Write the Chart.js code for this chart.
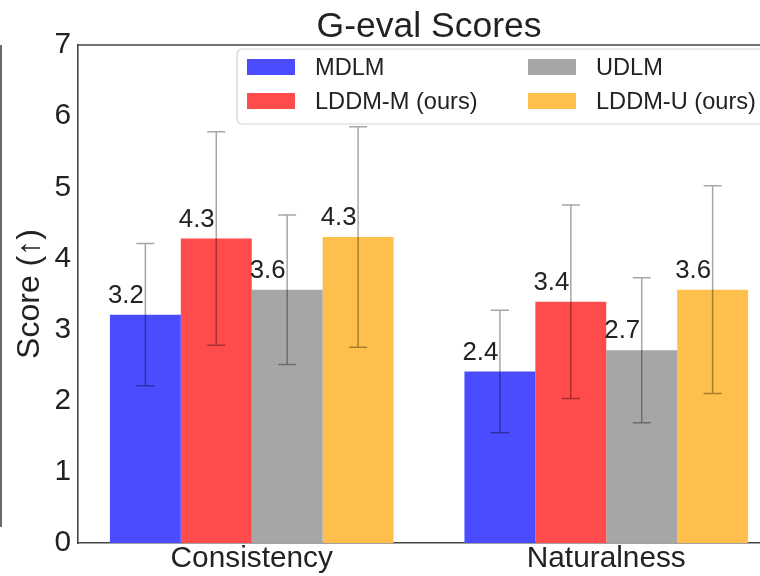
<!DOCTYPE html>
<html>
<head>
<meta charset="utf-8">
<script src="https://cdn.jsdelivr.net/npm/chart.js@4.4.1/dist/chart.umd.min.js"></script>
<style>
  html, body { margin: 0; padding: 0; overflow: hidden; background: #fff; width: 760px; height: 576px; }
  canvas { display: block; }
</style>
</head>
<body>
<canvas id="c" width="800" height="576"></canvas>
<script>
// Categories, series and tick labels
const categories = ['Consistency', 'Naturalness'];
const seriesNames = ['MDLM', 'LDDM-M (ours)', 'UDLM', 'LDDM-U (ours)'];
const mdlm  = [3.21, 2.41];
const lddmM = [4.28, 3.39];
const udlm  = [3.56, 2.71];
const lddmU = [4.30, 3.56];
// Standard deviations shown as error bars
const mdlmErr  = [1.00, 0.86];
const lddmMErr = [1.50, 1.36];
const udlmErr  = [1.05, 1.02];
const lddmUErr = [1.55, 1.46];
const yTicks = [0, 1, 2, 3, 4, 5, 6, 7];

const FONT = '"Liberation Sans", Arial, Helvetica, sans-serif';
const TEXT = '#222';
const SPINE = '#444';
const colors = ['#4b4bff', '#ff4b4b', '#a6a6a6', '#ffbf4d'];

const seriesValues = [mdlm, lddmM, udlm, lddmU];
const seriesErrors = [mdlmErr, lddmMErr, udlmErr, lddmUErr];

const datasets = seriesNames.map((name, s) => ({
  label: name,
  data: seriesValues[s].map((v, i) => ({ x: i, y: v })),
  errors: seriesErrors[s],
  backgroundColor: colors[s],
  borderWidth: 0,
  categoryPercentage: 0.8,
  barPercentage: 1.0
}));

const decor = {
  id: 'decor',
  afterDatasetsDraw(chart) {
    const { ctx, scales: { y } } = chart;
    ctx.save();
    // error bars
    ctx.strokeStyle = 'rgba(0,0,0,0.35)';
    ctx.lineWidth = 1.5;
    chart.data.datasets.forEach((ds, di) => {
      chart.getDatasetMeta(di).data.forEach((bar, i) => {
        const v = ds.data[i].y, e = ds.errors[i];
        const top = y.getPixelForValue(v + e), bot = y.getPixelForValue(v - e);
        ctx.beginPath();
        ctx.moveTo(bar.x, top); ctx.lineTo(bar.x, bot);
        ctx.moveTo(bar.x - 9, top); ctx.lineTo(bar.x + 9, top);
        ctx.moveTo(bar.x - 9, bot); ctx.lineTo(bar.x + 9, bot);
        ctx.stroke();
      });
    });
    // value labels
    ctx.fillStyle = TEXT;
    ctx.font = `25.8px ${FONT}`;
    ctx.textAlign = 'center';
    ctx.textBaseline = 'alphabetic';
    chart.data.datasets.forEach((ds, di) => {
      chart.getDatasetMeta(di).data.forEach((bar, i) => {
        ctx.fillText(ds.data[i].y.toFixed(1), bar.x - 19.5, bar.y - 12);
      });
    });
    ctx.restore();
  },
  afterDraw(chart) {
    const { ctx, chartArea: ca } = chart;
    ctx.save();
    // top spine
    ctx.strokeStyle = SPINE;
    ctx.lineWidth = 1.6;
    ctx.beginPath();
    ctx.moveTo(ca.left, ca.top); ctx.lineTo(ca.right, ca.top);
    ctx.stroke();
    // frame rule at the far left
    ctx.beginPath();
    ctx.moveTo(1, ca.top); ctx.lineTo(1, 527);
    ctx.stroke();
    // title
    ctx.fillStyle = TEXT;
    ctx.font = `35.5px ${FONT}`;
    ctx.textAlign = 'center';
    ctx.textBaseline = 'alphabetic';
    ctx.fillText('G-eval Scores', (ca.left + ca.right) / 2, 37);
    // legend, two columns
    const boxRight = ca.right - 12, boxW = 531, boxH = 75;
    const boxLeft = boxRight - boxW, boxTop = ca.top + 4;
    ctx.fillStyle = 'rgba(255,255,255,0.8)';
    ctx.strokeStyle = '#d4d4d4';
    ctx.lineWidth = 1.2;
    ctx.beginPath();
    ctx.roundRect(boxLeft, boxTop, boxW, boxH, 5);
    ctx.fill();
    ctx.stroke();
    ctx.font = `23.6px ${FONT}`;
    ctx.textAlign = 'left';
    ctx.textBaseline = 'middle';
    chart.data.datasets.forEach((ds, di) => {
      const col = Math.floor(di / 2), row = di % 2;
      const cy = boxTop + 18 + row * 34;
      const sx = boxLeft + 10 + col * 281;
      ctx.fillStyle = ds.backgroundColor;
      ctx.fillRect(sx, cy - 8, 48, 16);
      ctx.fillStyle = TEXT;
      ctx.fillText(ds.label, sx + 68, cy + 1);
    });
    ctx.restore();
  }
};

new Chart(document.getElementById('c'), {
  type: 'bar',
  data: { datasets },
  plugins: [decor],
  options: {
    responsive: false,
    animation: false,
    layout: { padding: { left: 0, right: 20, top: 45, bottom: 0 } },
    plugins: { legend: { display: false }, title: { display: false }, tooltip: { enabled: false } },
    scales: {
      x: {
        type: 'linear',
        min: -0.49, max: 1.49,
        offset: false,
        afterBuildTicks: s => { s.ticks = categories.map((c, i) => ({ value: i })); },
        ticks: {
          callback: v => categories[v],
          font: { family: FONT, size: 29.8, lineHeight: 1 },
          color: TEXT, padding: 1, maxRotation: 0, autoSkip: false
        },
        grid: { display: false, drawTicks: false },
        border: { display: true, color: SPINE, width: 1.6 },
        afterFit: s => { s.height = 33; }
      },
      y: {
        min: 0, max: 7,
        afterBuildTicks: s => { s.ticks = yTicks.map(v => ({ value: v })); },
        ticks: { font: { family: FONT, size: 29.8, lineHeight: 1 }, color: TEXT, padding: 7 },
        grid: { display: false, drawTicks: false },
        border: { display: true, color: SPINE, width: 1.6 },
        title: {
          display: true, text: 'Score (↑)', color: TEXT,
          font: { family: FONT, size: 32 }, padding: { top: 11, bottom: 0 }
        },
        afterFit: s => { s.width = 78; }
      }
    }
  }
});
</script>
</body>
</html>
